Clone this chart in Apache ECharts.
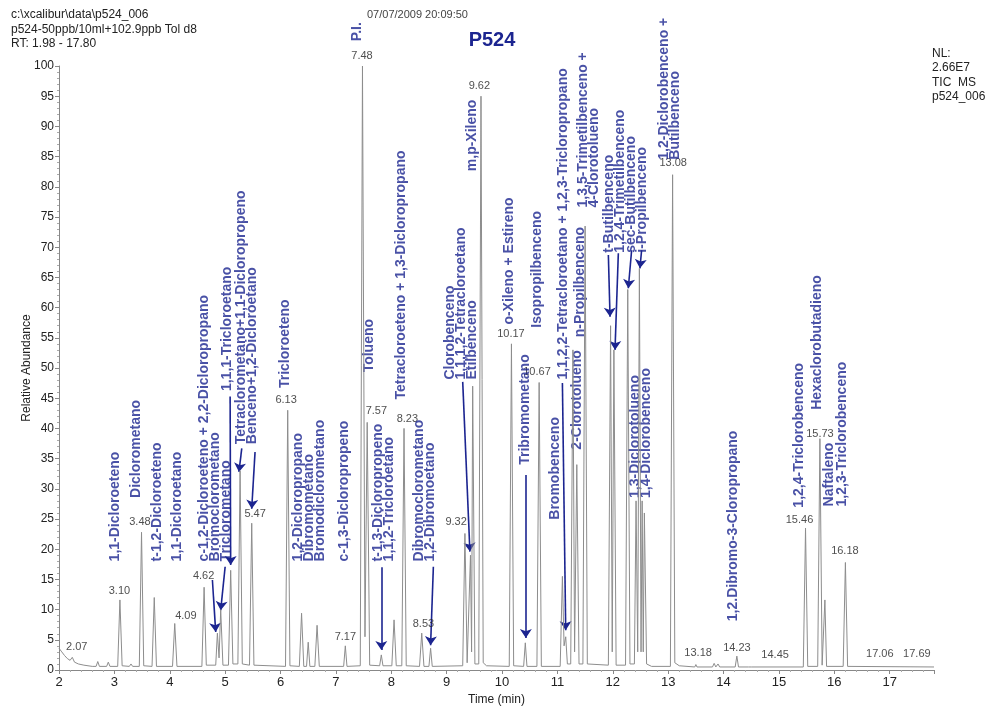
<!DOCTYPE html>
<html>
<head>
<meta charset="utf-8">
<script src="https://cdn.jsdelivr.net/npm/echarts@6/dist/echarts.min.js"></script>
<style>
  html, body { margin: 0; padding: 0; background: #fff; }
  #chart { width: 1000px; height: 713px; }
</style>
</head>
<body>
<div id="chart"></div>
<script>
// TIC trace: retention time (min) / relative abundance (%)
const traceTime = [
  2.00, 2.05, 2.10, 2.15, 2.20, 2.24, 2.28, 2.35, 2.45, 2.60, 2.67, 2.70, 2.73, 2.86, 2.89, 2.92,
  3.06, 3.10, 3.14, 3.27, 3.30, 3.33, 3.45, 3.49, 3.53, 3.68, 3.72, 3.76, 4.05, 4.09, 4.13,
  4.58, 4.62, 4.66, 4.83, 4.86, 4.89, 4.92, 4.96, 5.06, 5.10, 5.14, 5.23, 5.27, 5.31, 5.44, 5.48, 5.52,
  6.09, 6.13, 6.17, 6.34, 6.38, 6.42, 6.47, 6.50, 6.53, 6.62, 6.66, 6.70, 7.14, 7.17, 7.20,
  7.44, 7.48, 7.525, 7.565, 7.61, 7.79, 7.82, 7.85, 8.01, 8.05, 8.09, 8.19, 8.23, 8.27,
  8.51, 8.55, 8.59, 8.68, 8.71, 8.74, 9.29, 9.33, 9.37, 9.40, 9.43, 9.45, 9.47, 9.51,
  9.58, 9.62, 9.66, 9.72, 10.13, 10.17, 10.21, 10.39, 10.42, 10.45, 10.63, 10.67, 10.71,
  11.05, 11.09, 11.12, 11.15, 11.18, 11.24, 11.28, 11.31, 11.35, 11.39, 11.46, 11.50, 11.54,
  11.92, 11.96, 11.99, 12.02, 12.06, 12.23, 12.27, 12.31, 12.39, 12.42, 12.45, 12.48, 12.51,
  12.53, 12.55, 12.57, 12.61, 12.70, 13.04, 13.08, 13.12, 13.20, 13.48, 13.50, 13.52,
  13.80, 13.83, 13.86, 13.90, 13.93, 14.21, 14.24, 14.27, 14.45, 14.47, 14.50,
  15.44, 15.48, 15.52, 15.70, 15.74, 15.78, 15.81, 15.83, 15.86, 16.16, 16.20, 16.24, 17.80
]
const traceAbund = [
  3.6, 3.0, 2.4, 1.9, 1.6, 2.1, 1.3, 1.0, 0.8, 0.6, 0.6, 1.4, 0.6, 0.6, 1.3, 0.6,
  0.6, 11.6, 0.7, 0.6, 1.0, 0.6, 0.6, 22.8, 0.7, 0.6, 12.0, 0.6, 0.6, 7.7, 0.6,
  0.6, 13.7, 0.8, 0.8, 6.1, 2.0, 10.0, 0.8, 0.8, 16.5, 1.0, 1.0, 33.0, 1.0, 0.8, 24.3, 0.8,
  0.6, 43.0, 0.7, 0.6, 9.4, 0.6, 0.6, 4.6, 0.6, 0.6, 7.4, 0.6, 0.6, 4.0, 0.6,
  0.7, 100, 5.5, 41.0, 0.8, 0.7, 2.5, 0.7, 0.7, 8.3, 0.7, 0.7, 40.0, 0.7,
  0.6, 6.1, 0.6, 0.6, 3.6, 0.6, 0.7, 22.6, 1.2, 1.4, 19.0, 3.0, 47.0, 1.0,
  1.0, 95.0, 1.2, 0.7, 0.6, 54.0, 0.7, 0.6, 4.5, 0.6, 0.6, 47.6, 0.6,
  0.6, 15.5, 4.0, 5.5, 1.0, 1.0, 53.0, 3.0, 34.0, 1.0, 1.0, 73.5, 1.0,
  0.8, 57.0, 3.0, 53.0, 0.8, 0.8, 63.0, 1.0, 1.0, 28.0, 3.0, 66.5, 3.0,
  28.0, 3.0, 26.0, 1.0, 0.6, 0.6, 82.0, 1.2, 0.7, 0.5, 0.9, 0.5,
  0.5, 1.1, 0.5, 1.0, 0.5, 0.5, 2.3, 0.5, 0.5, 0.8, 0.5,
  0.5, 23.5, 0.6, 0.6, 38.3, 0.8, 0.8, 11.6, 0.6, 0.6, 17.8, 0.6, 0.5
]

// retention time labels printed over the peaks
const rtText = ['2.07', '3.10', '3.48', '4.09', '4.62', '5.47', '6.13', '7.17', '7.48', '7.57', '8.23', '8.53',
  '9.32', '9.62', '10.17', '10.67', '13.08', '13.18', '14.23', '14.45', '15.46', '15.73', '16.18', '17.06', '17.69']
const rtAnchor = [[2.33, 2.8], [3.10, 12.1], [3.47, 23.5], [4.30, 8.0], [4.62, 14.6], [5.55, 24.8], [6.11, 43.7],
  [7.18, 4.4], [7.48, 100.7], [7.74, 41.9], [8.30, 40.6], [8.59, 6.6], [9.18, 23.5], [9.60, 95.7],
  [10.17, 54.6], [10.64, 48.3], [13.10, 83.0], [13.55, 1.9], [14.25, 2.7], [14.94, 1.5], [15.38, 23.9],
  [15.75, 38.1], [16.20, 18.7], [16.83, 1.7], [17.50, 1.7]]

// compound names (vertical, bottom-left anchor)
const compoundText = [
  'P.I.',
  '1,1-Dicloroeteno',
  'Diclorometano',
  't-1,2-Dicloroeteno',
  '1,1-Dicloroetano',
  'c-1,2-Dicloroeteno + 2,2-Dicloropropano\nBromoclorometano\nTriclorometano',
  '1,1,1-Tricloroetano',
  'Tetraclorometano+1,1-Dicloropropeno\nBenceno+1,2-Dicloroetano',
  'Tricloroeteno',
  '1,2-Dicloropropano\nDibromometano\nBromodiclorometano',
  'c-1,3-Dicloropropeno',
  'Tolueno',
  't-1,3-Dicloropropeno\n1,1,2-Tricloroetano',
  'Tetracloroeteno + 1,3-Dicloropropano',
  'Dibromoclorometano\n1,2-Dibromoetano',
  'Clorobenceno\n1,1,1,2-Tetracloroetano\nEtilbenceno',
  'm,p-Xileno',
  'o-Xileno + Estireno',
  'Tribromometano',
  'Isopropilbenceno',
  'Bromobenceno',
  '1,1,2,2-Tetracloroetano + 1,2,3-Tricloropropano',
  '2-Clorotolueno',
  'n-Propilbenceno',
  '1,3,5-Trimetilbenceno +\n4-Clorotolueno',
  't-Butilbenceno\n1,2,4-Trimetilbenceno\nsec-Butilbenceno\ni-Propilbenceno',
  '1,3-Diclorotolueno\n1,4-Diclorobenceno',
  '1,2-Diclorobenceno +\nButilbenceno',
  '1,2.Dibromo-3-Cloropropano',
  '1,2,4-Triclorobenceno',
  'Hexaclorobutadieno',
  'Naftaleno',
  '1,2,3-Triclorobenceno'
]
const compoundAnchor = [
  [7.29, 104.0], [2.93, 17.9], [3.31, 28.4], [3.68, 17.9], [4.04, 17.9], [4.53, 17.9], [4.95, 46.1],
  [5.19, 37.3], [6.00, 46.6], [6.22, 17.9], [7.05, 17.9], [7.51, 49.2], [7.68, 17.9], [8.08, 44.7],
  [8.41, 17.9], [8.98, 48.0], [9.37, 82.5], [10.03, 57.1], [10.33, 33.9], [10.54, 56.6], [10.87, 24.8],
  [11.02, 48.0], [11.26, 36.4], [11.32, 55.0], [11.38, 76.5], [11.84, 69.0], [12.32, 28.4],
  [12.83, 84.4], [14.09, 8.0], [15.27, 26.8], [15.60, 43.0], [15.81, 27.0], [16.05, 27.0]
]

// arrows from labels to their peaks
const arrowFrom = [[4.77, 14.9], [5.00, 17.1], [5.09, 45.3], [5.30, 36.7], [5.54, 36.1], [7.82, 17.0],
  [8.76, 17.1], [9.29, 47.7], [10.43, 32.3], [11.09, 47.5], [11.92, 68.7], [12.10, 69.0], [12.34, 69.5], [12.52, 69.5]]
const arrowTo = [[4.83, 6.3], [4.92, 9.9], [5.10, 17.4], [5.25, 32.8], [5.48, 26.7], [7.82, 3.3],
  [8.71, 4.1], [9.42, 19.6], [10.43, 5.3], [11.15, 6.6], [11.95, 58.5], [12.04, 53.0], [12.28, 63.2], [12.49, 66.5]]

const navy = '#1c2590'
const font = 'Arial, "Liberation Sans", sans-serif'

const chart = echarts.init(document.getElementById('chart'))

const headerText = (text, x, y, extra) => Object.assign({
  type: 'text', x: x, y: y, silent: true,
  style: { text: text, fill: '#222', font: '12px ' + font, align: 'left', verticalAlign: 'middle' }
}, extra || {})

const option = {
  animation: false,
  backgroundColor: '#fff',
  grid: { left: 59, right: 66, top: 66, bottom: 43 },
  xAxis: {
    type: 'value',
    min: 2,
    max: 17.8,
    interval: 1,
    name: 'Time (min)',
    nameLocation: 'middle',
    nameGap: 21,
    nameTextStyle: { color: '#222', fontSize: 12, fontFamily: font },
    axisLine: { lineStyle: { color: '#888' } },
    axisTick: { length: 4, lineStyle: { color: '#888' } },
    minorTick: { show: true, splitNumber: 5, length: 2, lineStyle: { color: '#aaa' } },
    splitLine: { show: false },
    axisLabel: {
      color: '#222', fontSize: 13, fontFamily: font, margin: 6,
      formatter: (v) => Number.isInteger(v) ? String(v) : ''
    }
  },
  yAxis: {
    type: 'value',
    min: 0,
    max: 100,
    interval: 5,
    name: 'Relative Abundance',
    nameLocation: 'middle',
    nameGap: 26,
    nameMoveOverlap: false,
    nameTextStyle: { color: '#222', fontSize: 12, fontFamily: font },
    axisLine: { show: true, lineStyle: { color: '#888' } },
    axisTick: { show: true, length: 4, lineStyle: { color: '#888' } },
    minorTick: { show: true, splitNumber: 5, length: 2, lineStyle: { color: '#aaa' } },
    splitLine: { show: false },
    axisLabel: { color: '#222', fontSize: 12, fontFamily: font, margin: 5 }
  },
  graphic: [
    headerText('c:\\xcalibur\\data\\p524_006', 11, 15),
    headerText('p524-50ppb/10ml+102.9ppb Tol d8', 11, 30),
    headerText('RT: 1.98 - 17.80', 11, 44),
    headerText('07/07/2009 20:09:50', 367, 15, { style: { text: '07/07/2009 20:09:50', fill: '#444', font: '11px ' + font, align: 'left', verticalAlign: 'middle' } }),
    headerText('P524', 492, 40, { style: { text: 'P524', fill: navy, font: 'bold 20px ' + font, align: 'center', verticalAlign: 'middle' } }),
    headerText('NL:', 932, 54),
    headerText('2.66E7', 932, 68),
    headerText('TIC  MS', 932, 83),
    headerText('p524_006', 932, 97)
  ],
  series: [
    {
      name: 'TIC',
      type: 'line',
      showSymbol: false,
      silent: true,
      lineStyle: { color: '#8d8d8d', width: 1 },
      data: traceTime.map((t, i) => [t, traceAbund[i]])
    },
    {
      name: 'rt',
      type: 'scatter',
      clip: false,
      silent: true,
      symbolSize: 1,
      itemStyle: { color: 'transparent' },
      label: {
        show: true,
        position: [0, 0],
        align: 'center',
        verticalAlign: 'bottom',
        color: '#222',
        fontSize: 11,
        fontFamily: font,
        formatter: (p) => p.name
      },
      data: rtText.map((s, i) => ({ name: s, value: rtAnchor[i] }))
    },
    {
      name: 'compounds',
      type: 'scatter',
      clip: false,
      silent: true,
      symbolSize: 1,
      itemStyle: { color: 'transparent' },
      label: {
        show: true,
        position: [0, 0],
        rotate: 90,
        align: 'left',
        verticalAlign: 'top',
        color: navy,
        fontSize: 14,
        lineHeight: 11,
        fontWeight: 'bold',
        fontFamily: font,
        formatter: (p) => p.name
      },
      data: compoundText.map((s, i) => ({ name: s, value: compoundAnchor[i] }))
    },
    {
      name: 'arrows',
      type: 'lines',
      coordinateSystem: 'cartesian2d',
      silent: true,
      symbol: ['none', 'arrow'],
      symbolSize: 9,
      lineStyle: { color: navy, width: 1.6, opacity: 1 },
      data: arrowFrom.map((a, i) => ({ coords: [a, arrowTo[i]] }))
    }
  ]
}

chart.setOption(option)
</script>
</body>
</html>
